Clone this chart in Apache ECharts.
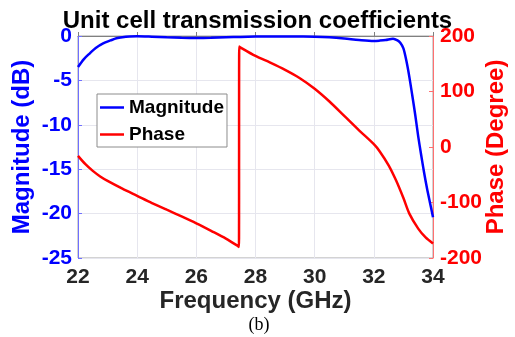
<!DOCTYPE html>
<html>
<head>
<meta charset="utf-8">
<script src="https://cdn.jsdelivr.net/npm/echarts@6/dist/echarts.min.js"></script>
<style>
  html, body { margin: 0; padding: 0; background: #fff; }
  #chart { width: 515px; height: 337px; }
</style>
</head>
<body>
<div id="chart"></div>
<script>
// Magnitude (dB) vs frequency (GHz)
const magFreq = [22.0, 22.2, 22.4, 22.6, 22.85, 23.1, 23.3, 23.5, 23.75, 24.0, 24.5, 25.0, 25.5, 26.0, 26.5, 27.0, 27.5, 28.0, 28.5, 29.0, 29.5, 30.0, 30.5, 31.0, 31.5, 32.0, 32.2, 32.4, 32.65, 32.8, 32.9, 33.0, 33.1, 33.2, 33.3, 33.4, 33.5, 33.6, 33.7, 33.8, 33.9, 34.0];
const magDb = [-3.5, -2.6, -1.95, -1.35, -0.83, -0.5, -0.26, -0.14, -0.06, -0.03, -0.08, -0.15, -0.2, -0.22, -0.2, -0.15, -0.1, -0.07, -0.05, -0.05, -0.06, -0.08, -0.15, -0.28, -0.45, -0.56, -0.52, -0.45, -0.3, -0.5, -0.8, -1.4, -2.8, -4.6, -6.7, -8.9, -11.3, -13.4, -15.4, -17.2, -18.8, -20.4];

// Phase (degree) vs frequency (GHz)
const phaseFreq = [22.0, 22.25, 22.5, 22.75, 23.0, 23.5, 24.0, 24.5, 25.0, 25.5, 26.0, 26.5, 27.0, 27.42, 27.44, 27.45, 27.47, 28.0, 28.5, 29.0, 29.5, 30.0, 30.5, 31.0, 31.5, 32.0, 32.2, 32.5, 32.75, 33.0, 33.2, 33.5, 33.75, 34.0];
const phaseDeg = [-16, -31, -43, -53, -61, -75, -88, -101, -113, -125, -137.5, -151, -165, -179, -180, 181, 180, 164, 152, 139, 124, 105, 82, 56, 30, 5, -8, -33, -60, -92, -120, -147, -163, -174];

const FONT = 'Arial, "Liberation Sans", sans-serif';
const BLUE = '#0000ff';
const RED = '#ff0000';

const chart = echarts.init(document.getElementById('chart'));

const option = {
  animation: false,
  backgroundColor: '#fff',
  title: {
    text: 'Unit cell transmission coefficients',
    left: 'center',
    top: 9,
    padding: 0,
    textStyle: { fontFamily: FONT, fontSize: 24, fontWeight: 'bold', color: '#000' }
  },
  legend: {
    orient: 'vertical',
    left: 97,
    top: 94,
    padding: [4, 3, 3, 3],
    icon: 'rect',
    itemWidth: 24,
    itemHeight: 2.5,
    itemGap: 8,
    itemTextGap: 2,
    backgroundColor: '#fff',
    borderColor: '#8c8c8c',
    borderWidth: 1,
    borderRadius: 0,
    textStyle: { fontFamily: FONT, fontSize: 19, fontWeight: 'bold', color: '#000', lineHeight: 19 },
    data: ['Magnitude', 'Phase']
  },
  grid: {
    left: 78, right: 82, top: 36, bottom: 79,
    containLabel: false,
    outerBoundsMode: 'none',
    show: true, borderColor: '#a6a6a6', borderWidth: 1
  },
  xAxis: {
    type: 'value',
    min: 22, max: 34, interval: 2,
    name: 'Frequency (GHz)',
    nameLocation: 'middle',
    nameGap: 31,
    nameMoveOverlap: false,
    nameTextStyle: { fontFamily: FONT, fontSize: 24, fontWeight: 'bold', color: '#262626' },
    axisLine: { lineStyle: { color: '#808080', width: 1 } },
    axisTick: { inside: true, length: 4, lineStyle: { color: '#808080' } },
    axisLabel: { margin: 9, fontFamily: FONT, fontSize: 21, fontWeight: 'bold', color: '#262626' },
    splitLine: { show: true, lineStyle: { color: '#e6e6ee', width: 1 } }
  },
  yAxis: [
    {
      type: 'value',
      min: -25, max: 0, interval: 5,
      position: 'left',
      name: 'Magnitude (dB)',
      nameLocation: 'middle',
      nameGap: 44,
      nameMoveOverlap: false,
      nameTextStyle: { fontFamily: FONT, fontSize: 24, fontWeight: 'bold', color: BLUE },
      axisLine: { show: true, lineStyle: { color: '#7070ff', width: 1 } },
      axisTick: { show: true, inside: true, length: 4, lineStyle: { color: '#7070ff' } },
      axisLabel: { margin: 6, fontFamily: FONT, fontSize: 21, fontWeight: 'bold', color: BLUE },
      splitLine: { show: true, lineStyle: { color: '#e6e6ee', width: 1 } }
    },
    {
      type: 'value',
      min: -200, max: 200, interval: 100,
      position: 'right',
      name: 'Phase (Degree)',
      nameLocation: 'middle',
      nameGap: 51,
      nameMoveOverlap: false,
      nameTextStyle: { fontFamily: FONT, fontSize: 24, fontWeight: 'bold', color: RED },
      axisLine: { show: true, lineStyle: { color: '#ff7070', width: 1 } },
      axisTick: { show: true, inside: true, length: 4, lineStyle: { color: '#ff7070' } },
      axisLabel: { margin: 7, fontFamily: FONT, fontSize: 21, fontWeight: 'bold', color: RED },
      splitLine: { show: false }
    }
  ],
  series: [
    {
      name: 'Magnitude',
      type: 'line',
      yAxisIndex: 0,
      symbol: 'none',
      smooth: 0.3,
      lineStyle: { color: BLUE, width: 2.5 },
      itemStyle: { color: BLUE },
      data: magFreq.map((f, i) => [f, magDb[i]]),
      z: 3
    },
    {
      name: 'Phase',
      type: 'line',
      yAxisIndex: 1,
      symbol: 'none',
      smooth: 0.3,
      lineStyle: { color: RED, width: 2.5 },
      itemStyle: { color: RED },
      data: phaseFreq.map((f, i) => [f, phaseDeg[i]]),
      z: 2
    }
  ],
  graphic: [
    {
      type: 'text',
      x: 259,
      y: 325,
      style: {
        text: '(b)',
        fill: '#000',
        font: '18px "Liberation Serif", "Times New Roman", serif',
        textAlign: 'center',
        textVerticalAlign: 'middle'
      }
    }
  ]
};

chart.setOption(option);
</script>
</body>
</html>
